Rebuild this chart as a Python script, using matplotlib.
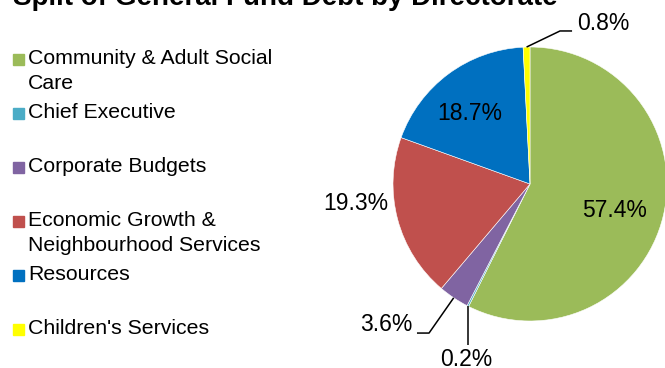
"""Pie chart of General Fund debt split by directorate."""

import matplotlib.pyplot as plt
import numpy as np
from matplotlib.patches import Rectangle

# Directorates in the order the slices run clockwise from 12 o'clock.
directorates = [
    "Community & Adult Social\nCare",
    "Chief Executive",
    "Corporate Budgets",
    "Economic Growth &\nNeighbourhood Services",
    "Resources",
    "Children's Services",
]
debt_share = [57.4, 0.2, 3.6, 19.3, 18.7, 0.8]
slice_colors = ["#9BBB59", "#4BACC6", "#8064A2", "#C0504D", "#0070C0", "#FFFF00"]

TITLE = "Split of General Fund Debt by Directorate"

W, H = 665, 368
plt.rcParams["font.family"] = ["Liberation Sans", "DejaVu Sans"]

fig = plt.figure(figsize=(W / 100, H / 100), dpi=100)

# Pie axes: centre (530, 184) px, radius 137 px.
cx, cy, r = 530, 184, 137
ax = fig.add_axes([(cx - r) / W, (H - cy - r) / H, 2 * r / W, 2 * r / H])
ax.pie(debt_share, colors=slice_colors, startangle=90, counterclock=False,
       wedgeprops={"edgecolor": "white", "linewidth": 0.4})
ax.set_xlim(-1, 1)
ax.set_ylim(-1, 1)
ax.set_aspect("auto")
ax.axis("off")

# Mid angle of each slice, in degrees.
cum = np.cumsum([0] + debt_share)
mid = 90 - (cum[:-1] + np.array(debt_share) / 2) * 3.6


def edge_point(i):
    a = np.radians(mid[i])
    return np.cos(a), np.sin(a)


label_font = dict(fontsize=16.5, color="black")
# (x, y, ha) for each label in pie units
label_pos = [
    (0.620, -0.197, "center"),
    (-0.467, -1.280, "center"),
    (-0.861, -1.029, "right"),
    (-1.270, -0.139, "center"),
    (-0.438, 0.511, "center"),
    (0.343, 1.168, "left"),
]
for i, v in enumerate(debt_share):
    x, y, ha = label_pos[i]
    ax.text(x, y, f"{v:.1f}%", ha=ha, va="center", clip_on=False, **label_font)

# Leader lines for the small slices.
leaders = {
    1: [(-0.453, -1.175)],
    2: [(-0.737, -1.088), (-0.825, -1.088)],
    5: [(0.219, 1.117), (0.307, 1.117)],
}
for i, pts in leaders.items():
    x0, y0 = edge_point(i)
    if i == 1:
        pts = [(x0, pts[0][1])]
    xs = [x0] + [p[0] for p in pts]
    ys = [y0] + [p[1] for p in pts]
    ax.plot(xs, ys, color="black", lw=1.1, clip_on=False,
            solid_capstyle="butt")

# Title, partly above the top edge.
fig.text(13 / W, 1 - 5 / H, TITLE, fontsize=20, fontweight="bold",
         ha="left", va="baseline")

# Legend: one fixed-height slot per directorate.
for i, (name, col) in enumerate(zip(directorates, slice_colors)):
    yc = 59.5 + 54 * i
    fig.patches.append(Rectangle((13 / W, 1 - (yc + 5.5) / H), 11 / W, 11 / H,
                                 transform=fig.transFigure, color=col))
    fig.text(28 / W, 1 - (yc - 11) / H, name, fontsize=15.3, ha="left",
             va="top", linespacing=1.45)

fig.savefig("out.png", dpi=100)
